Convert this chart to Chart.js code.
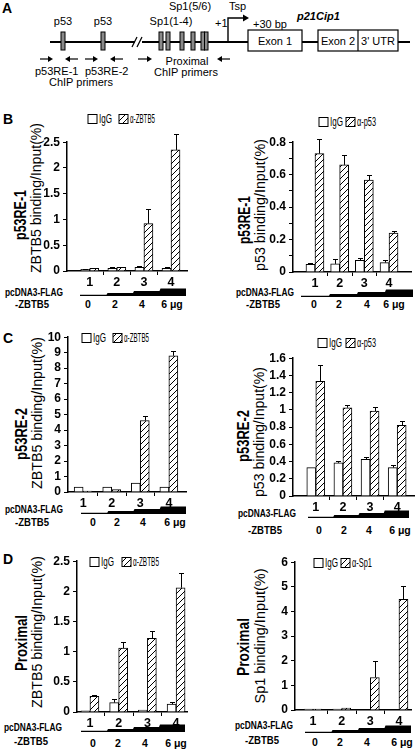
<!DOCTYPE html>
<html>
<head>
<meta charset="utf-8">
<script src="https://cdn.jsdelivr.net/npm/chart.js@4.4.1/dist/chart.umd.min.js"></script>
<style>
  body { margin: 0; background: #fff; width: 416px; height: 754px; position: relative; overflow: hidden; }
  #fondo { position: absolute; left: 0; top: 0; }
  canvas { position: absolute; }
</style>
</head>
<body>
<svg id="fondo" width="416" height="754" xmlns="http://www.w3.org/2000/svg"></svg>
<script>
// Grupos del eje x y dosis de pcDNA3-FLAG-ZBTB5
const grupos = ["1", "2", "3", "4"];
const dosis = ["0", "2", "4", "6 μg"];

// B - p53RE-1, ChIP con anti-ZBTB5
const b1IgG = [0.03, 0.05, 0.07, 0.05];
const b1IgGErr = [0.005, 0.03, 0.02, 0.02];
const b1Ab = [0.05, 0.07, 0.92, 2.35];
const b1AbErr = [0.005, 0.01, 0.29, 0.3];
const b1Ticks = [0, 0.5, 1, 1.5, 2, 2.5];
const b1Etiquetas = ["0", "0.5", "1", "1.5", "2", "2.5"];

// B - p53RE-1, ChIP con anti-p53 (marcas menores cada 0.1)
const b2IgG = [0.047, 0.05, 0.072, 0.058];
const b2IgGErr = [0.006, 0.03, 0.015, 0.014];
const b2Ab = [0.73, 0.66, 0.567, 0.24];
const b2AbErr = [0.09, 0.06, 0.03, 0.01];
const b2Ticks = [0, 0.1, 0.2, 0.3, 0.4, 0.5, 0.6, 0.7, 0.8];
const b2Etiquetas = ["0", "", "0.2", "", "0.4", "", "0.6", "", "0.8"];

// C - p53RE-2, anti-ZBTB5
const c1IgG = [0.32, 0.32, 0.58, 0.32];
const c1IgGErr = [0, 0, 0, 0];
const c1Ab = [0.06, 0.15, 4.62, 8.8];
const c1AbErr = [0, 0, 0.26, 0.33];
const c1Ticks = [0, 1, 2, 3, 4, 5, 6, 7, 8, 9, 10];
const c1Etiquetas = ["0", "1", "2", "3", "4", "5", "6", "7", "8", "9", "10"];

// C - p53RE-2, anti-p53
const c2IgG = [0.33, 0.385, 0.427, 0.33];
const c2IgGErr = [0, 0.02, 0.027, 0.027];
const c2Ab = [1.33, 1.025, 0.986, 0.82];
const c2AbErr = [0.19, 0.03, 0.05, 0.05];
const c2Ticks = [0, 0.2, 0.4, 0.6, 0.8, 1, 1.2, 1.4, 1.6];
const c2Etiquetas = ["0", "0.2", "0.4", "0.6", "0.8", "1", "1.2", "1.4", "1.6"];

// D - proximal, anti-ZBTB5
const d1IgG = [0.02, 0.155, 0.03, 0.13];
const d1IgGErr = [0, 0.055, 0, 0.03];
const d1Ab = [0.26, 1.06, 1.22, 2.06];
const d1AbErr = [0.03, 0.095, 0.12, 0.25];
const d1Ticks = [0, 0.5, 1, 1.5, 2, 2.5];
const d1Etiquetas = ["0", "0.5", "1", "1.5", "2", "2.5"];

// D - proximal, anti-Sp1
const d2IgG = [0.04, 0.04, 0, 0];
const d2IgGErr = [0, 0, 0, 0];
const d2Ab = [0.04, 0.08, 1.32, 4.49];
const d2AbErr = [0, 0, 0.68, 0.54];
const d2Ticks = [0, 1, 2, 3, 4, 5, 6];
const d2Etiquetas = ["0", "1", "2", "3", "4", "5", "6"];

const SANS = '"Liberation Sans", Arial, sans-serif';

// Posicion de cada panel (area del grafico, leyenda, titulos, cuña de dosis)
const paneles = [
  { igg: b1IgG, iggErr: b1IgGErr, ab: b1Ab, abErr: b1AbErr, ticks: b1Ticks, etiquetas: b1Etiquetas, abName: "α-ZBTB5", abLargo: 25,
    sitio: "p53RE-1", sitioLargo: 50, titulo: "ZBTB5 binding/Input(%)", largo: 150, letra: "B", letraY: 119,
    area: { l: 67, r: 187, t: 142, b: 271 }, xr: [0.16, 4.59],
    ley: { x1: 88, x2: 119, y: 119 }, t1: [20, 215], t2: [35, 198],
    cuna: { x0: 80, x1: 186, yb: 296, ly: 304, dx: [88, 115, 142, 172], px: 34, py1: 292, py2: 304 } },
  { igg: b2IgG, iggErr: b2IgGErr, ab: b2Ab, abErr: b2AbErr, ticks: b2Ticks, etiquetas: b2Etiquetas, abName: "α-p53", abLargo: 19,
    sitio: "p53RE-1", sitioLargo: 48, titulo: "p53 binding/Input(%)", largo: 132,
    area: { l: 293, r: 411, t: 142, b: 272 }, xr: [0.11, 4.89],
    ley: { x1: 319, x2: 346, y: 122 }, t1: [244, 220], t2: [259, 205],
    cuna: { x0: 301, x1: 413, yb: 297, ly: 304, dx: [314, 339, 367, 394], px: 265, py1: 292, py2: 304 } },
  { igg: c1IgG, iggErr: c1IgGErr, ab: c1Ab, abErr: c1AbErr, ticks: c1Ticks, etiquetas: c1Etiquetas, abName: "α-ZBTB5", abLargo: 25,
    sitio: "p53RE-2", sitioLargo: 52, titulo: "ZBTB5 binding/Input(%)", largo: 152, letra: "C", letraY: 338,
    area: { l: 68, r: 186, t: 337, b: 492 }, xr: [0.47, 4.6],
    ley: { x1: 82, x2: 113, y: 338 }, t1: [21, 434], t2: [36, 413],
    cuna: { x0: 81, x1: 186, yb: 514, ly: 522, dx: [93, 117, 143, 175], px: 34, py1: 509, py2: 522 } },
  { igg: c2IgG, iggErr: c2IgGErr, ab: c2Ab, abErr: c2AbErr, ticks: c2Ticks, etiquetas: c2Etiquetas, abName: "α-p53", abLargo: 19,
    sitio: "p53RE-2", sitioLargo: 52, titulo: "p53 binding/Input(%)", largo: 130,
    area: { l: 293, r: 414, t: 358, b: 496 }, xr: [0.16, 4.62],
    ley: { x1: 318, x2: 346, y: 343 }, t1: [243, 436], t2: [258, 432],
    cuna: { x0: 308, x1: 409, yb: 518, ly: 530, dx: [319, 344, 369, 400], px: 267, py1: 513, py2: 530 } },
  { igg: d1IgG, iggErr: d1IgGErr, ab: d1Ab, abErr: d1AbErr, ticks: d1Ticks, etiquetas: d1Etiquetas, abName: "α-ZBTB5", abLargo: 26,
    sitio: "Proximal", sitioLargo: 56, titulo: "ZBTB5 binding/Input(%)", largo: 152, letra: "D", letraY: 559,
    area: { l: 77, r: 187, t: 561, b: 712 }, xr: [0.55, 4.38],
    ley: { x1: 90, x2: 122, y: 562 }, t1: [21, 643], t2: [36, 632],
    cuna: { x0: 81, x1: 185, yb: 732, ly: 743, dx: [93, 118, 145, 176], px: 33, py1: 727, py2: 741 } },
  { igg: d2IgG, iggErr: d2IgGErr, ab: d2Ab, abErr: d2AbErr, ticks: d2Ticks, etiquetas: d2Etiquetas, abName: "α-Sp1", abLargo: 20,
    sitio: "Proximal", sitioLargo: 58, titulo: "Sp1 binding/Input(%)", largo: 135,
    area: { l: 295, r: 411, t: 562, b: 710 }, xr: [0.37, 4.42],
    ley: { x1: 314, x2: 341, y: 563 }, t1: [243, 647], t2: [259, 636],
    cuna: { x0: 305, x1: 411, yb: 733, ly: 742, dx: [315, 340, 367, 402], px: 264, py1: 725, py2: 740 } }
];

// Dibujo del esquema del promotor (panel A) y textos fijos
let svg = `
<defs>
  <pattern id="rayas" width="6" height="6" patternUnits="userSpaceOnUse">
    <rect width="6" height="6" fill="#fff"/>
    <path d="M0,6 L6,0 M-1,1 L1,-1 M5,7 L7,5" stroke="#000" stroke-width="1"/>
  </pattern>
</defs>
<text x="2" y="13" font-family='${SANS}' font-weight="bold" font-size="14">A</text>
<g stroke="#000" stroke-width="2">
  <line x1="50" y1="42" x2="135" y2="42"/>
  <line x1="142" y1="42" x2="248" y2="42"/>
  <line x1="302" y1="42" x2="318" y2="42"/>
  <line x1="398" y1="42" x2="410" y2="42"/>
</g>
<g stroke="#000" stroke-width="1.2">
  <line x1="132" y1="47" x2="137" y2="37"/>
  <line x1="137" y1="47" x2="142" y2="37"/>
</g>
<g fill="#fff" stroke="#000" stroke-width="1.2">
  <rect x="248" y="30" width="54" height="21"/>
  <rect x="318" y="30" width="80" height="21"/>
</g>
<line x1="358" y1="30" x2="358" y2="51" stroke="#000" stroke-width="1.2"/>
<g fill="#8a8a8a" stroke="#000" stroke-width="1">
  <rect x="61" y="32" width="4" height="18"/>
  <rect x="101" y="32" width="4" height="18"/>
  <rect x="159" y="32" width="4" height="18"/>
  <rect x="166" y="32" width="4" height="18"/>
  <rect x="180" y="32" width="4" height="18"/>
  <rect x="191" y="32" width="4" height="18"/>
  <rect x="201" y="32" width="3.5" height="18"/>
  <rect x="204.5" y="32" width="3.5" height="18"/>
</g>
<polyline points="228,42 228,18 243,18" fill="none" stroke="#000" stroke-width="1.4"/>
<polygon points="243,14.5 249,18 243,21.5" fill="#000"/>
<g font-family='${SANS}' font-size="11" fill="#000">
  <text x="63" y="25" text-anchor="middle">p53</text>
  <text x="103" y="25" text-anchor="middle">p53</text>
  <text x="171" y="25" text-anchor="middle">Sp1(1-4)</text>
  <text x="190" y="10" text-anchor="middle">Sp1(5/6)</text>
  <text x="215" y="27">+1</text>
  <text x="229" y="10">Tsp</text>
  <text x="253" y="28">+30 bp</text>
  <text x="275" y="45" text-anchor="middle">Exon 1</text>
  <text x="338" y="45" text-anchor="middle">Exon 2</text>
  <text x="378" y="45" text-anchor="middle">3' UTR</text>
  <text x="297" y="20" font-weight="bold" font-style="italic">p21Cip1</text>
  <text x="35" y="75">p53RE-1</text>
  <text x="85" y="75">p53RE-2</text>
  <text x="81" y="86" text-anchor="middle">ChIP primers</text>
  <text x="187" y="65" text-anchor="middle">Proximal</text>
  <text x="186" y="76" text-anchor="middle">ChIP primers</text>
</g>
`;

// Flechas de los cebadores
function flecha(x0, x1, y) {
  const d = x1 > x0 ? 1 : -1;
  return `<line x1="${x0}" y1="${y}" x2="${x1 - d * 4}" y2="${y}" stroke="#000" stroke-width="1.2"/>
    <polygon points="${x1},${y} ${x1 - d * 5},${y - 3} ${x1 - d * 5},${y + 3}" fill="#000"/>`;
}
svg += flecha(40, 53, 59) + flecha(78, 65, 59) + flecha(85, 98, 59) + flecha(123, 110, 59) +
  flecha(138, 152, 59) + flecha(230, 217, 59);

// Texto comprimido a un largo fijo (la fuente original es estrecha)
function texto(x, y, t, largo, extra) {
  return `<text x="${x}" y="${y}" dominant-baseline="central" textLength="${largo}" lengthAdjust="spacingAndGlyphs"
    font-family='${SANS}' ${extra}>${t}</text>`;
}

// Textos, leyendas y cuñas de cada panel
paneles.forEach(p => {
  const L = p.ley, W = p.cuna;
  if (p.letra) {
    svg += `<text x="3" y="${p.letraY}" dominant-baseline="central" font-family='${SANS}' font-weight="bold" font-size="14">${p.letra}</text>`;
  }
  svg += `<text transform="translate(${p.t1[0]},${p.t1[1]}) rotate(-90)" text-anchor="middle" dominant-baseline="central"
      font-family='${SANS}' font-weight="bold" font-size="17" textLength="${p.sitioLargo}" lengthAdjust="spacingAndGlyphs">${p.sitio}</text>`;
  svg += `<text transform="translate(${p.t2[0]},${p.t2[1]}) rotate(-90)" text-anchor="middle" dominant-baseline="central"
      font-family='${SANS}' font-size="15" textLength="${p.largo}" lengthAdjust="spacingAndGlyphs">${p.titulo}</text>`;
  svg += `<rect x="${L.x1}" y="${L.y - 4.5}" width="9" height="9" fill="#fff" stroke="#000" stroke-width="1"/>
    <rect x="${L.x2}" y="${L.y - 4.5}" width="9" height="9" fill="url(#rayas)" stroke="#000" stroke-width="1"/>`;
  svg += texto(L.x1 + 11, L.y, "IgG", 13, 'font-size="12"');
  svg += texto(L.x2 + 11, L.y, p.abName, p.abLargo, 'font-size="12"');
  // cuña escalonada
  const w = (W.x1 - W.x0) / 4;
  const h = [1.2, 3, 5, 7.5];
  let pts = `${W.x0},${W.yb} ${W.x1},${W.yb}`;
  for (let i = 3; i >= 0; i--) {
    pts += ` ${W.x0 + w * (i + 1)},${W.yb - h[i]} ${W.x0 + w * i + (i ? 1 : 0)},${W.yb - h[i]}`;
  }
  svg += `<polygon points="${pts}" fill="#000"/>`;
  svg += texto(W.px - 29, W.py1, "pcDNA3-FLAG", 58, 'font-size="11.5" font-weight="bold"');
  svg += texto(W.px - 19, W.py2, "-ZBTB5", 34, 'font-size="11.5" font-weight="bold"');
  dosis.forEach((d, i) => {
    svg += `<text x="${W.dx[i]}" y="${W.ly}" text-anchor="middle" dominant-baseline="central" font-family='${SANS}' font-weight="bold" font-size="10.5">${d}</text>`;
  });
});
document.getElementById("fondo").innerHTML = svg;

// Patron rayado para las barras del anticuerpo
function crearRayas(ctx) {
  const c = document.createElement("canvas");
  c.width = 6; c.height = 6;
  const g = c.getContext("2d");
  g.fillStyle = "#fff";
  g.fillRect(0, 0, 6, 6);
  g.strokeStyle = "#000";
  g.lineWidth = 1;
  g.beginPath();
  g.moveTo(0, 6); g.lineTo(6, 0);
  g.moveTo(-1, 1); g.lineTo(1, -1);
  g.moveTo(5, 7); g.lineTo(7, 5);
  g.stroke();
  return ctx.createPattern(c, "repeat");
}

// Plugin de barras de error (solo hacia arriba)
const barrasError = {
  id: "barrasError",
  afterDatasetsDraw(chart) {
    const ctx = chart.ctx;
    const y = chart.scales.y;
    ctx.save();
    ctx.strokeStyle = "#000";
    ctx.lineWidth = 1;
    chart.data.datasets.forEach((ds, di) => {
      chart.getDatasetMeta(di).data.forEach((bar, i) => {
        const e = ds.errores[i];
        if (!e) return;
        const tope = Math.round(y.getPixelForValue(ds.data[i].y + e)) + 0.5;
        const x = Math.round(bar.x) + 0.5;
        ctx.beginPath();
        ctx.moveTo(x, bar.y);
        ctx.lineTo(x, tope);
        ctx.moveTo(x - 2.5, tope);
        ctx.lineTo(x + 2.5, tope);
        ctx.stroke();
      });
    });
    ctx.restore();
  }
};

const ANCHO_Y = 32, ALTO_X = 22, PAD_T = 10, PAD_R = 8;

paneles.forEach(p => {
  const a = p.area;
  const canvas = document.createElement("canvas");
  canvas.width = a.r - a.l + ANCHO_Y + PAD_R;
  canvas.height = a.b - a.t + PAD_T + ALTO_X;
  canvas.style.left = (a.l - ANCHO_Y) + "px";
  canvas.style.top = (a.t - PAD_T) + "px";
  document.body.appendChild(canvas);
  const ctx = canvas.getContext("2d");

  new Chart(ctx, {
    type: "bar",
    data: {
      datasets: [{
        label: "IgG",
        data: p.igg.map((v, i) => ({ x: i + 1, y: v })),
        errores: p.iggErr,
        backgroundColor: "#fff",
        borderColor: "#000",
        borderWidth: 1
      }, {
        label: p.abName,
        data: p.ab.map((v, i) => ({ x: i + 1, y: v })),
        errores: p.abErr,
        backgroundColor: crearRayas(ctx),
        borderColor: "#000",
        borderWidth: 1
      }]
    },
    options: {
      responsive: false,
      animation: false,
      devicePixelRatio: 1,
      barThickness: 9,
      layout: { padding: { left: 0, top: PAD_T, right: PAD_R, bottom: 0 } },
      plugins: { legend: { display: false }, tooltip: { enabled: false } },
      scales: {
        x: {
          type: "linear",
          offset: false,
          min: p.xr[0],
          max: p.xr[1],
          border: { color: "#000", width: 1.5 },
          grid: {
            offset: true,
            drawOnChartArea: false,
            tickLength: 4,
            lineWidth: 1,
            color: c => (c.index > 0 && c.index < 4) ? "#000" : "rgba(0,0,0,0)"
          },
          ticks: {
            color: "#000",
            padding: 0,
            font: { family: SANS, size: 12.5, weight: "bold" },
            callback: v => grupos[v - 1]
          },
          afterBuildTicks: s => { s.ticks = grupos.map((g, i) => ({ value: i + 1 })); },
          afterFit: s => { s.height = ALTO_X; }
        },
        y: {
          min: 0,
          max: p.ticks[p.ticks.length - 1],
          border: { color: "#000", width: 1.5 },
          grid: { drawOnChartArea: false, tickLength: 4, color: "#000", lineWidth: 1 },
          ticks: {
            color: "#000",
            padding: 3,
            autoSkip: false,
            font: { family: SANS, size: 12, weight: "bold" },
            callback: (v, i) => p.etiquetas[i]
          },
          afterBuildTicks: s => { s.ticks = p.ticks.map(v => ({ value: v })); },
          afterFit: s => { s.width = ANCHO_Y; }
        }
      }
    },
    plugins: [barrasError]
  });
});
</script>
</body>
</html>
